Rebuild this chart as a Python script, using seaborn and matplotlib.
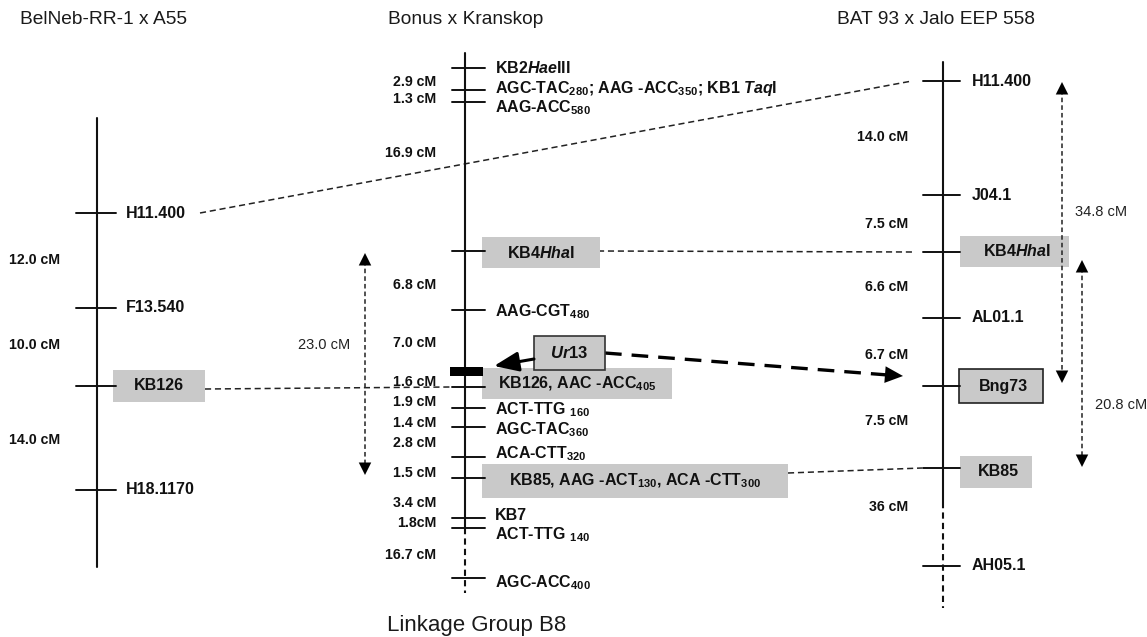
import matplotlib
matplotlib.use("Agg")
import matplotlib.pyplot as plt
from matplotlib.patches import Rectangle
import seaborn as sns
import pandas as pd

# ---------------------------------------------------------------- data
titles = ["BelNeb-RR-1 x A55", "Bonus x Kranskop", "BAT 93 x Jalo EEP 558"]
group_label = "Linkage Group B8"

# BelNeb-RR-1 x A55
left_markers = ["H11.400", "F13.540", "KB126", "H18.1170"]
left_map_y = [213, 308, 386, 490]
left_gaps = ["12.0 cM", "10.0 cM", "14.0 cM"]
left_gap_y = [260, 345, 440]

# Bonus x Kranskop
mid_markers = [
    r"KB2$\mathbfit{Hae}$III",
    r"AGC-TAC$_{\mathbf{280}}$; AAG -ACC$_{\mathbf{350}}$; KB1 $\mathbfit{Taq}$I",
    r"AAG-ACC$_{\mathbf{580}}$",
    r"KB4$\mathbfit{Hha}$I",
    r"AAG-CGT$_{\mathbf{480}}$",
    r"KB126, AAC -ACC$_{\mathbf{405}}$",
    r"ACT-TTG $_{\mathbf{160}}$",
    r"AGC-TAC$_{\mathbf{360}}$",
    r"ACA-CTT$_{\mathbf{320}}$",
    r"KB85, AAG -ACT$_{\mathbf{130}}$, ACA -CTT$_{\mathbf{300}}$",
    "KB7",
    r"ACT-TTG $_{\mathbf{140}}$",
    r"AGC-ACC$_{\mathbf{400}}$",
]
mid_map_y = [68, 90, 102, 251, 310, 387, 408, 427, 457, 478, 518, 528, 578]
mid_label_dy = [0, -1, 6, 0, 2, -2, 2, 3, -3, 3, -3, 7, 5]
mid_gaps = ["2.9 cM", "1.3 cM", "16.9 cM", "6.8 cM", "7.0 cM", "1.6 cM", "1.9 cM",
            "1.4 cM", "2.8 cM", "1.5 cM", "3.4 cM", "1.8cM", "16.7 cM"]
mid_gap_y = [82, 99, 153, 285, 343, 382, 402, 423, 443, 473, 503, 523, 555]
locus_name = r"$\mathbfit{Ur}$13"
locus_map_y = 371

# BAT 93 x Jalo EEP 558
right_markers = ["H11.400", "J04.1", r"KB4$\mathbfit{Hha}$I", "AL01.1", "Bng73", "KB85", "AH05.1"]
right_map_y = [81, 195, 252, 318, 386, 468, 566]
right_gaps = ["14.0 cM", "7.5 cM", "6.6 cM", "6.7 cM", "7.5 cM", "36 cM"]
right_gap_y = [137, 224, 287, 355, 421, 507]

# span arrows: (label, x, y_top, y_bottom, label x, label y, alignment)
spans = [("23.0 cM", 365, 253, 475, 350, 345, "right"),
         ("34.8 cM", 1062, 82, 383, 1075, 212, "left"),
         ("20.8 cM", 1082, 260, 467, 1095, 405, "left")]

# ---------------------------------------------------------------- style
sns.set_theme(style="white")
plt.rcParams["font.family"] = ["Liberation Sans", "DejaVu Sans"]
plt.rcParams["text.color"] = "#111111"
plt.rcParams["mathtext.fontset"] = "custom"
plt.rcParams["mathtext.rm"] = "Liberation Sans"
plt.rcParams["mathtext.it"] = "Liberation Sans:italic"
plt.rcParams["mathtext.bf"] = "Liberation Sans:bold"
plt.rcParams["mathtext.bfit"] = "Liberation Sans:italic:bold"
plt.rcParams["mathtext.sf"] = "Liberation Sans"

BOX = "#c9c9c9"
INK = "#111111"
MARK_FS = 11.5
GAP_FS = 10.2
TITLE_FS = 13.8

fig = plt.figure(figsize=(11.47, 6.37), dpi=100)
ax = fig.add_axes([0, 0, 1, 1])

# chromosome backbones (solid part + dashed extension)
xs = {"left": 97, "mid": 465, "right": 943}
backbone = pd.DataFrame({
    "x": [xs["left"], xs["left"], xs["mid"], xs["mid"], xs["mid"], xs["mid"],
          xs["right"], xs["right"], xs["right"], xs["right"]],
    "y": [118, 567, 53, 528, 528, 593, 62, 502, 502, 608],
    "seg": ["l", "l", "m1", "m1", "m2", "m2", "r1", "r1", "r2", "r2"],
    "kind": ["solid", "solid", "solid", "solid", "dashed", "dashed",
             "solid", "solid", "dashed", "dashed"],
})
sns.lineplot(data=backbone, x="x", y="y", units="seg", estimator=None, sort=False,
             style="kind", dashes={"solid": "", "dashed": (3, 2)}, color=INK,
             linewidth=1.5, legend=False, ax=ax)

ax.set_xlim(0, 1147)
ax.set_ylim(637, 0)
ax.axis("off")

# titles
for t, x in zip(titles, [20, 388, 837]):
    ax.text(x, 19, t, fontsize=TITLE_FS, ha="left", va="center", color="#1a1a1a")
ax.text(387, 625, group_label, fontsize=16, ha="left", va="center", color="#1a1a1a")


def gray_box(x0, y0, x1, y1, edge=None):
    ax.add_patch(Rectangle((x0, y0), x1 - x0, y1 - y0, facecolor=BOX,
                           edgecolor=edge if edge else "none", lw=1.2 if edge else 0, zorder=2))


def dashed(x0, y0, x1, y1, lw=1.1):
    ax.plot([x0, x1], [y0, y1], color="#222222", lw=lw, ls=(0, (4, 2.5)), zorder=1)


# ---------------- left chromosome
for name, y in zip(left_markers, left_map_y):
    ax.plot([xs["left"] - 21, xs["left"] + 19], [y, y], color=INK, lw=1.4, zorder=3)
    if name == "KB126":
        gray_box(113, y - 16, 205, y + 16)
        ax.text(159, y, name, fontsize=MARK_FS, fontweight="bold", ha="center",
                va="center", zorder=4)
    else:
        ax.text(126, y, name, fontsize=MARK_FS, fontweight="bold", ha="left",
                va="center")
for g, y in zip(left_gaps, left_gap_y):
    ax.text(9, y, g, fontsize=GAP_FS, fontweight="bold", ha="left", va="center")

# ---------------- middle chromosome
mid_boxes = {3: (482, 600, 237, 268), 5: (482, 672, 368, 399), 9: (482, 788, 464, 498)}
for i, (name, y) in enumerate(zip(mid_markers, mid_map_y)):
    ax.plot([xs["mid"] - 13, xs["mid"] + 20], [y, y], color=INK, lw=1.4, zorder=3)
    if i in mid_boxes:
        x0, x1, y0, y1 = mid_boxes[i]
        gray_box(x0, y0, x1, y1)
        ax.text((x0 + x1) / 2, (y0 + y1) / 2, name, fontsize=MARK_FS,
                fontweight="bold", ha="center", va="center", zorder=4)
    else:
        ax.text(495, y + mid_label_dy[i], name, fontsize=MARK_FS, fontweight="bold",
                ha="left", va="center")
for g, y in zip(mid_gaps, mid_gap_y):
    ax.text(436, y, g, fontsize=GAP_FS, fontweight="bold", ha="right", va="center")

# Ur13 locus bar and label box
ax.add_patch(Rectangle((xs["mid"] - 15, locus_map_y - 4.5), 33, 9, facecolor="black",
                       edgecolor="none", zorder=5))
ax.add_patch(Rectangle((534, 336), 71, 34, facecolor=BOX, edgecolor="#333333",
                       lw=1.2, zorder=5))
ax.text(569.5, 353, locus_name, fontsize=12, fontweight="bold", ha="center",
        va="center", zorder=6)
ax.annotate("", xy=(494, 366), xytext=(534, 359),
            arrowprops=dict(arrowstyle="-|>,head_length=0.75,head_width=0.3",
                            mutation_scale=20, color="black", lw=2.2,
                            shrinkA=0, shrinkB=0), zorder=6)

# ---------------- right chromosome
right_boxes = {2: (960, 1069, 236, 267, None), 4: (959, 1043, 369, 403, "#222222"),
               5: (960, 1032, 456, 488, None)}
for i, (name, y) in enumerate(zip(right_markers, right_map_y)):
    ax.plot([xs["right"] - 20, xs["right"] + 17], [y, y], color=INK, lw=1.4, zorder=3)
    if i in right_boxes:
        x0, x1, y0, y1, edge = right_boxes[i]
        gray_box(x0, y0, x1, y1, edge)
        ax.text((x0 + x1) / 2 + 2, (y0 + y1) / 2, name, fontsize=MARK_FS,
                fontweight="bold", ha="center", va="center", zorder=4)
    else:
        ax.text(972, y, name, fontsize=MARK_FS, fontweight="bold", ha="left",
                va="center")
for g, y in zip(right_gaps, right_gap_y):
    ax.text(908, y, g, fontsize=GAP_FS, fontweight="bold", ha="right", va="center")

# ---------------- connectors between maps
dashed(200, left_map_y[0], 912, right_map_y[0])           # H11.400
dashed(205, left_map_y[2] + 3, 450, mid_map_y[5])          # KB126
dashed(598, mid_map_y[3], 913, right_map_y[2])             # KB4HhaI
dashed(788, mid_map_y[9] - 5, 922, right_map_y[5])         # KB85

# Ur13 position projected on the BAT 93 x Jalo map
ax.plot([605, 888], [353, 375], color="black", lw=2.4, ls=(0, (5, 3)), zorder=4)
ax.annotate("", xy=(903, 376), xytext=(885, 374.6),
            arrowprops=dict(arrowstyle="-|>,head_length=0.65,head_width=0.3",
                            mutation_scale=20, color="black", lw=0,
                            shrinkA=0, shrinkB=0), zorder=5)

# ---------------- interval span arrows
for lab, x, y0, y1, lx, ly, ha in spans:
    ax.plot([x, x], [y0 + 8, y1 - 8], color="#222222", lw=1.1, ls=(0, (3, 2)))
    for tip, tail in ((y0, y0 + 10), (y1, y1 - 10)):
        ax.annotate("", xy=(x, tip), xytext=(x, tail),
                    arrowprops=dict(arrowstyle="-|>,head_length=0.6,head_width=0.3",
                                    mutation_scale=15, color="black", lw=0,
                                    shrinkA=0, shrinkB=0))
    ax.text(lx, ly, lab, fontsize=10.5, ha=ha, va="center", color="#222222")

fig.savefig("out.png", dpi=100, facecolor="white")
